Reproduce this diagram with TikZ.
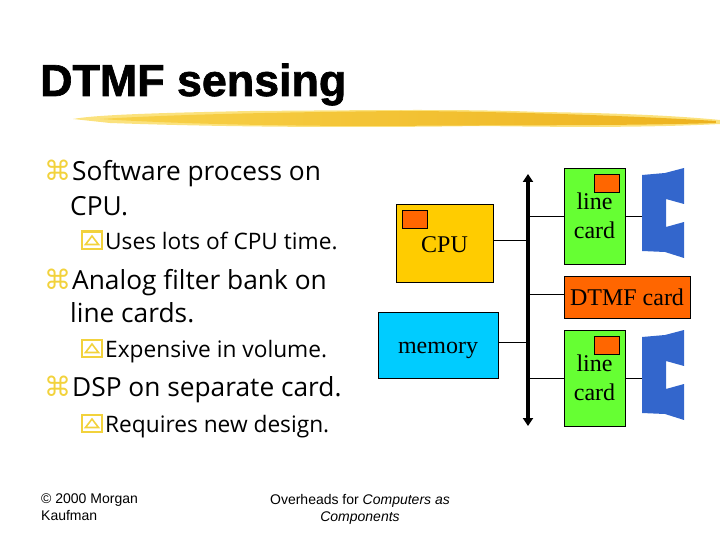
\documentclass[tikz,border=0pt]{standalone}
\usepackage{fontspec}
\usepackage{xcolor}
\setmainfont{Liberation Serif}
\newfontfamily\bodyfont{Open Sans}
\newfontfamily\footfont{Liberation Sans}
\newfontfamily\titlefont[FakeBold=1.5]{Liberation Sans Bold}
\newfontfamily\symfont{DejaVu Sans}
\definecolor{bulletyellow}{HTML}{F2D23C}
\definecolor{cpuyellow}{HTML}{FFCC00}
\definecolor{cardgreen}{HTML}{66FF33}
\definecolor{chiporange}{HTML}{FF6600}
\definecolor{memblue}{HTML}{00CCFF}
\definecolor{speakerblue}{HTML}{3366CC}
\definecolor{brushlight}{HTML}{FBE27E}
\definecolor{brushmid}{HTML}{F8D24A}
\definecolor{brushdark}{HTML}{EDB21E}
\usetikzlibrary{arrows.meta}
\tikzset{
  box/.style={draw=black, line width=0.7pt, inner sep=0pt, align=center, font=\fontsize{24}{29}\selectfont},
  boxtext/.style={inner sep=0pt, anchor=base, font=\fontsize{24}{29}\selectfont},
  chip/.style={box, fill=chiporange, minimum width=25pt, minimum height=18pt},
  linecard/.style={box, fill=cardgreen, minimum width=61pt, minimum height=96pt},
  level one/.style={anchor=base west, inner sep=0pt, font=\bodyfont\fontsize{26.3}{26.3}\selectfont},
  level two/.style={anchor=base west, inner sep=0pt, font=\bodyfont\fontsize{22.7}{22.7}\selectfont},
  top bullet/.style={level one, text=bulletyellow, font=\symfont\fontsize{27}{27}\selectfont},
  foot/.style={inner sep=0pt, align=left, font=\footfont\fontsize{14}{17}\selectfont},
  wire/.style={draw=black, line width=0.8pt},
  speaker/.pic={
    \fill[speakerblue] (0,7) -- (23,5) -- (42,0) -- (42,36) -- (24,31) -- (24,59)
      -- (42,54) -- (42,90) -- (23,84) -- (0,83) -- cycle;
  },
  subbullet/.pic={
    \draw[bulletyellow, line width=2pt] (0,0) rectangle (20,17);
    \draw[bulletyellow, line width=1.6pt] (3.5,13) -- (10,4.5) -- (16.5,13) -- cycle;
  }
}

\begin{document}
\begin{tikzpicture}[x=1pt, y=-1pt]
  \useasboundingbox (0,0) rectangle (720,540);

  % brush stroke under the title
  \fill[brushlight] (73,119) .. controls (95,115) and (150,113) .. (250,111)
    .. controls (380,110) and (470,109) .. (540,112) .. controls (620,113) and (680,116) .. (720,120)
    -- (720,124) .. controls (640,128) and (560,127) .. (480,126)
    .. controls (350,128) and (220,127) .. (110,123) -- cycle;
  \path[left color=brushmid, right color=brushdark] (100,119) .. controls (180,114) and (300,112) .. (400,111)
    .. controls (480,111) and (620,115) .. (716,121) -- (716,123)
    .. controls (620,126) and (500,125) .. (380,126) .. controls (280,126) and (180,124) .. cycle;

  % title
  \node[anchor=base west, inner sep=0pt, font=\titlefont\fontsize{44.8}{44.8}\selectfont] (title) at (40,96) {DTMF sensing};

  % text on the left
  \node[top bullet] (bulleta) at (44,181) {⌘};
  \node[level one] (softa) at (72,181) {Software process on};
  \node[level one] (softb) at (70,215) {CPU.};
  \pic at (82,231.5) {subbullet};
  \node[level two] (uses) at (105,249) {Uses lots of CPU time.};
  \node[top bullet] (bulletb) at (44,289) {⌘};
  \node[level one] (analoga) at (72,289) {Analog filter bank on};
  \node[level one] (analogb) at (70,322) {line cards.};
  \pic at (82,339.5) {subbullet};
  \node[level two] (expensive) at (105,357) {Expensive in volume.};
  \node[top bullet] (bulletc) at (44,396) {⌘};
  \node[level one] (dsp) at (72,396) {DSP on separate card.};
  \pic at (82,414.5) {subbullet};
  \node[level two] (requires) at (105,432) {Requires new design.};

  % footer
  \node[foot, anchor=north west] (footleft) at (41,494) {© 2000 Morgan\\Kaufman};
  \node[foot, anchor=north, align=center] (footmid) at (360,494) {Overheads for \textit{Computers as}\\\textit{Components}};

  % boxes
  \node[box, fill=cpuyellow, minimum width=97pt, minimum height=78pt] (cpu) at (444.5,243) {};
  \node[boxtext] (cpulabel) at (444.5,252) {CPU};
  \node[chip] (cpuchip) at (414.5,219) {};
  \node[box, fill=memblue, minimum width=120pt, minimum height=66pt] (memory) at (438,345) {};
  \node[boxtext] (memlabel) at (438,353) {memory};
  \node[linecard] (carda) at (594.5,216) {line\\card};
  \node[chip] (chipa) at (606.5,183) {};
  \node[box, fill=chiporange, minimum width=126pt, minimum height=42pt] (dtmf) at (627,297) {DTMF card};
  \node[linecard] (cardb) at (594.5,378) {line\\card};
  \node[chip] (chipb) at (606.5,345) {};

  % speakers
  \pic at (642,168) {speaker};
  \pic at (642,330) {speaker};
  \coordinate (speakera) at (642,216);
  \coordinate (speakerb) at (642,378);

  % bus
  \coordinate (bustop) at (528,174);
  \coordinate (busbot) at (528,426);
  \draw[line width=4.5pt, {Triangle[width=10pt,length=8pt]}-{Triangle[width=10pt,length=8pt]}] (bustop) -- (busbot);

  % connectors
  \draw[wire] (cpu.east) ++(0,-3) coordinate (cpuport) -- (cpuport -| bustop);
  \draw[wire] (memory.east) ++(0,-3) coordinate (memport) -- (memport -| bustop);
  \draw[wire] (carda.east) -- (speakera);
  \draw[wire] (carda.west) -- (carda.west -| bustop);
  \draw[wire] (dtmf.west) ++(0,-3) coordinate (dtmfport) -- (dtmfport -| bustop);
  \draw[wire] (cardb.east) -- (speakerb);
  \draw[wire] (cardb.west) -- (cardb.west -| bustop);
\end{tikzpicture}
\end{document}
